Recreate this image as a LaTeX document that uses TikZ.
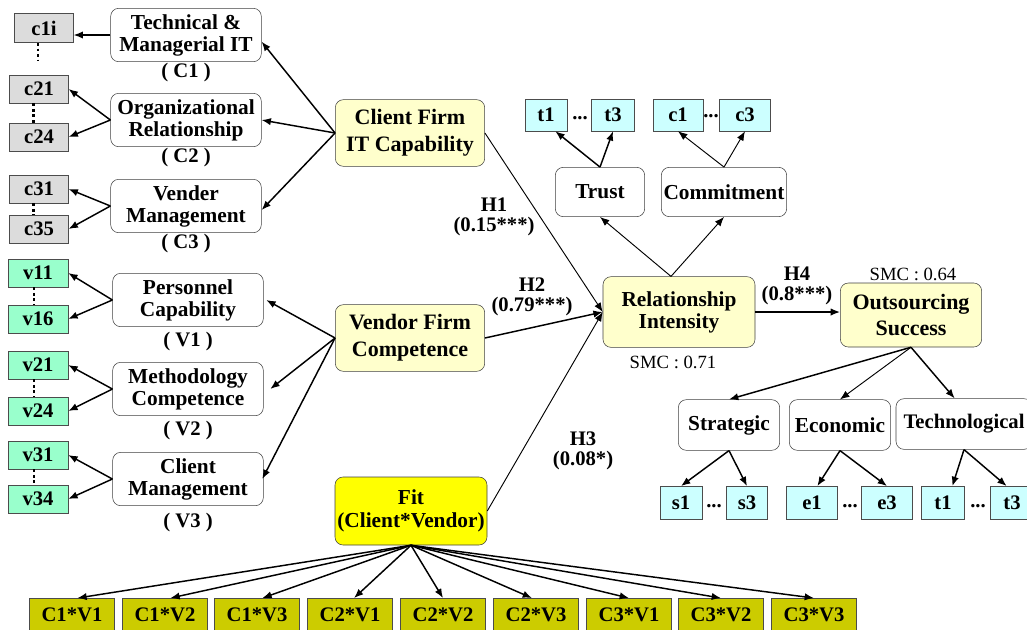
\documentclass[tikz,border=0pt]{standalone}
\usepackage{fontspec}
\setmainfont{Liberation Serif}
\usetikzlibrary{arrows.meta}
\definecolor{grayind}{HTML}{DCDCDC}
\definecolor{greenind}{HTML}{99FFCC}
\definecolor{cyanind}{HTML}{CCFFFF}
\definecolor{oliveind}{HTML}{CCCC00}
\definecolor{paleyel}{HTML}{FFFFCC}
\definecolor{fityel}{HTML}{FFFF00}

\begin{document}
\begin{tikzpicture}[x=0.75pt, y=-0.75pt, >={Latex[length=7pt,width=5.5pt]}]
	\tikzset{ind/.style={rectangle, draw=black!70, minimum width=44pt, minimum height=21pt, inner sep=0pt, font=\fontsize{15.5}{15}\selectfont\bfseries}};
	\tikzset{con/.style={rectangle, rounded corners=6pt, draw=black!75, fill=white, minimum width=113pt, minimum height=40pt, inner sep=1pt, align=center, font=\fontsize{16}{16.5}\selectfont\bfseries}};
	\tikzset{lat/.style={con, fill=paleyel, minimum width=112pt, minimum height=50pt, font=\fontsize{16.5}{20}\selectfont\bfseries}};
	\tikzset{lab/.style={inner sep=0pt, align=center, font=\fontsize{15.5}{15.5}\selectfont\bfseries}};
	\tikzset{smc/.style={inner sep=0pt, font=\fontsize{14}{14}\selectfont}};
	\tikzset{arr/.style={->, line width=1.1pt}};
	\tikzset{thinarr/.style={->, line width=0.7pt}};
	\tikzset{dots/.style={line width=2.2pt, dash pattern=on 2.2pt off 2pt}};

	\clip (0,0) rectangle (1027,629);

	% client side indicators
	\node[ind, fill=grayind, minimum height=22pt] (c1i) at (44,28) {c1i};
	\node[ind, fill=grayind] (c21) at (39,89) {c21};
	\node[ind, fill=grayind] (c24) at (39,137) {c24};
	\node[ind, fill=grayind] (c31) at (39,189) {c31};
	\node[ind, fill=grayind] (c35) at (39,229) {c35};
	\coordinate (c1d) at (38,60);

	% vendor side indicators
	\node[ind, fill=greenind, minimum width=45pt] (v11) at (38,273) {v11};
	\node[ind, fill=greenind, minimum width=45pt] (v16) at (38,319) {v16};
	\node[ind, fill=greenind, minimum width=45pt] (v21) at (38,365) {v21};
	\node[ind, fill=greenind, minimum width=45pt] (v24) at (38,411) {v24};
	\node[ind, fill=greenind, minimum width=45pt] (v31) at (38,455) {v31};
	\node[ind, fill=greenind, minimum width=45pt] (v34) at (38,499) {v34};

	% first order constructs
	\node[con] (c1) at (186,35) {Technical \&\\Managerial IT};
	\node[con] (c2) at (186,120) {Organizational\\Relationship};
	\node[con] (c3) at (186,206) {Vender\\Management};
	\node[con] (v1) at (188,300) {Personnel\\Capability};
	\node[con] (v2) at (188,389) {Methodology\\Competence};
	\node[con] (v3) at (188,479) {Client\\Management};

	\node[lab] (lc1) at (186,73) {( C1 )};
	\node[lab] (lc2) at (186,158) {( C2 )};
	\node[lab] (lc3) at (186,244) {( C3 )};
	\node[lab] (lv1) at (188,342) {( V1 )};
	\node[lab] (lv2) at (188,431) {( V2 )};
	\node[lab] (lv3) at (188,523) {( V3 )};

	% latent variables
	\node[lat] (cf) at (410,133) {Client Firm\\IT Capability};
	\node[lat] (vf) at (410,338) {Vendor Firm\\Competence};
	\node[lat, fill=fityel, minimum width=114pt, minimum height=51pt, font=\fontsize{16}{17}\selectfont\bfseries] (fit) at (411,511) {Fit\\(Client*Vendor)};
	\node[lat, minimum width=114pt, minimum height=53pt, font=\fontsize{16}{16.5}\selectfont\bfseries] (ri) at (679,312) {Relationship\\Intensity};
	\node[lat, minimum width=106pt, minimum height=48pt] (os) at (911,315) {Outsourcing\\Success};

	\node[con, minimum width=67pt, minimum height=37pt] (tr) at (600,192) {Trust};
	\node[con, minimum width=94pt, minimum height=37pt] (cm) at (724,192) {Commitment};
	\node[con, minimum width=76pt, minimum height=38pt] (st) at (729,425) {Strategic};
	\node[con, minimum width=76pt, minimum height=38pt] (ec) at (840,425) {Economic};
	\node[con, minimum width=102pt, minimum height=38pt, font=\fontsize{15.5}{16}\selectfont\bfseries] (te) at (964,424) {Technological};

	% relationship and success indicators
	\node[ind, fill=cyanind, minimum width=31.5pt, minimum height=24pt] (t1) at (546,115) {t1};
	\node[ind, fill=cyanind, minimum width=32pt, minimum height=24pt] (t3) at (613,115) {t3};
	\node[ind, fill=cyanind, minimum width=37.5pt, minimum height=24pt] (k1) at (678,115) {c1};
	\node[ind, fill=cyanind, minimum width=38pt, minimum height=24pt] (k3) at (745,115) {c3};
	\node[ind, fill=cyanind, minimum width=31.5pt, minimum height=25pt] (s1) at (681,503) {s1};
	\node[ind, fill=cyanind, minimum width=31pt, minimum height=25pt] (s3) at (747,503) {s3};
	\node[ind, fill=cyanind, minimum width=38pt, minimum height=25pt] (e1) at (812,503) {e1};
	\node[ind, fill=cyanind, minimum width=38pt, minimum height=25pt] (e3) at (887,503) {e3};
	\node[ind, fill=cyanind, minimum width=32pt, minimum height=25pt] (u1) at (943,503) {t1};
	\node[ind, fill=cyanind, minimum width=32pt, minimum height=25pt] (u3) at (1012,503) {t3};

	\node[lab] (dt) at (580,118) {...};
	\node[lab] (dk) at (711,116) {...};
	\node[lab] (ds) at (714,506) {...};
	\node[lab] (de) at (850,506) {...};
	\node[lab] (du) at (978,506) {...};

	% fit indicators
	\node[ind, fill=oliveind, minimum width=64pt, minimum height=25pt] (cv11) at (72,615) {C1*V1};
	\node[ind, fill=oliveind, minimum width=64pt, minimum height=25pt] (cv12) at (165,615) {C1*V2};
	\node[ind, fill=oliveind, minimum width=64pt, minimum height=25pt] (cv13) at (257,615) {C1*V3};
	\node[ind, fill=oliveind, minimum width=64pt, minimum height=25pt] (cv21) at (350,615) {C2*V1};
	\node[ind, fill=oliveind, minimum width=64pt, minimum height=25pt] (cv22) at (443,615) {C2*V2};
	\node[ind, fill=oliveind, minimum width=64pt, minimum height=25pt] (cv23) at (536,615) {C2*V3};
	\node[ind, fill=oliveind, minimum width=64pt, minimum height=25pt] (cv31) at (629,615) {C3*V1};
	\node[ind, fill=oliveind, minimum width=64pt, minimum height=25pt] (cv32) at (721,615) {C3*V2};
	\node[ind, fill=oliveind, minimum width=64pt, minimum height=25pt] (cv33) at (814,615) {C3*V3};

	% path labels
	\node[lab] (h1) at (494,217) {H1\\(0.15***)};
	\node[lab] (h2) at (532,297) {H2\\(0.79***)};
	\node[lab] (h3) at (583,451) {H3\\(0.08*)};
	\node[lab] (h4) at (797,286) {H4\\(0.8***)};
	\node[smc] (smc1) at (673,362) {SMC : 0.71};
	\node[smc] (smc2) at (913,274) {SMC : 0.64};

	% dotted ranges
	\draw[dots] (c1d |- c1i.south) -- (c1d);
	\draw[dots] ([xshift=-4pt]c21.south) -- ([xshift=-4pt]c24.north);
	\draw[dots] ([xshift=-4pt]c31.south) -- ([xshift=-4pt]c35.north);
	\draw[dots] ([xshift=-3pt]v11.south) -- ([xshift=-3pt]v16.north);
	\draw[dots] ([xshift=-3pt]v21.south) -- ([xshift=-3pt]v24.north);
	\draw[dots] ([xshift=-3pt]v31.south) -- ([xshift=-3pt]v34.north);

	% measurement arrows, left
	\draw[arr] (c1.west) -- (c1i.east |- c1.west);
	\draw[arr] (c2.west) -- (c21.east);
	\draw[arr] (c2.west) -- (c24.east);
	\draw[arr] (c3.west) -- (c31.east);
	\draw[arr] (c3.west) -- (c35.east);
	\draw[arr] (v1.west) -- (v11.east);
	\draw[arr] (v1.west) -- (v16.east);
	\draw[arr] (v2.west) -- (v21.east);
	\draw[arr] (v2.west) -- (v24.east);
	\draw[arr] (v3.west) -- (v31.east);
	\draw[arr] (v3.west) -- (v34.east);

	\draw[arr] (cf.west) -- ([yshift=-5pt]c1.east);
	\draw[arr] (cf.west) -- (c2.east);
	\draw[arr] (cf.west) -- ([yshift=-3pt]c3.east);
	\draw[arr] (vf.west) -- ([xshift=2pt]v1.east);
	\draw[arr] (vf.west) -- ([xshift=5pt]v2.east);
	\draw[arr] (vf.west) -- ([xshift=-1pt]v3.east);

	% structural paths
	\draw[thinarr] (cf.east) -- (ri.west);
	\draw[arr] (vf.east) -- (ri.west);
	\draw[thinarr] (fit.east) -- (ri.west);
	\draw[arr] (ri.east) -- (os.west |- ri.east);

	% relationship intensity
	\draw[thinarr] ([xshift=-6pt]ri.north) -- (tr.south);
	\draw[thinarr] ([xshift=-6pt]ri.north) -- (cm.south);
	\draw[arr] (tr.north) -- ([xshift=7pt]t1.south);
	\draw[arr] (tr.north) -- (t3.south);
	\draw[thinarr] (cm.north) -- (k1.south);
	\draw[thinarr] (cm.north) -- (k3.south);

	% outsourcing success
	\draw[arr] (os.south) -- (st.north);
	\draw[thinarr] (os.south) -- (ec.north);
	\draw[arr] (os.south) -- ([xshift=-7pt]te.north);
	\draw[arr] (st.south) -- (s1.north);
	\draw[arr] (st.south) -- (s3.north);
	\draw[arr] (ec.south) -- ([xshift=4pt]e1.north);
	\draw[arr] (ec.south) -- (e3.north);
	\draw[arr] (te.south) -- ([xshift=7pt]u1.north);
	\draw[arr] (te.south) -- ([xshift=-4pt]u3.north);

	% fit
	\draw[arr] (fit.south) -- ([xshift=4pt]cv11.north);
	\draw[arr] (fit.south) -- ([xshift=4pt]cv12.north);
	\draw[arr] (fit.south) -- ([xshift=4pt]cv13.north);
	\draw[arr] (fit.south) -- ([xshift=3pt]cv21.north);
	\draw[arr] (fit.south) -- (cv22.north);
	\draw[arr] (fit.south) -- ([xshift=-3pt]cv23.north);
	\draw[arr] (fit.south) -- (cv31.north);
	\draw[arr] (fit.south) -- (cv32.north);
	\draw[arr] (fit.south) -- (cv33.north);
\end{tikzpicture}
\end{document}
